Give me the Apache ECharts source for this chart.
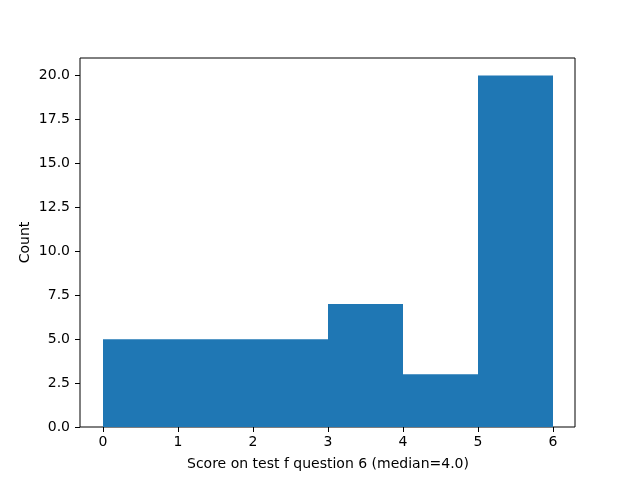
<!DOCTYPE html>
<html>
<head>
<meta charset="utf-8">
<script src="https://cdn.jsdelivr.net/npm/echarts@6/dist/echarts.min.js"></script>
<style>
  html, body { margin: 0; padding: 0; background: #fff; }
  #chart { width: 640px; height: 480px; }
</style>
</head>
<body>
<div id="chart"></div>
<script>
// Histogram data: bin edges and counts per bin
const binEdges = [0, 1, 2, 3, 4, 5, 6];
const counts = [5, 5, 5, 7, 3, 20];
const xTicks = [0, 1, 2, 3, 4, 5, 6];
const yTicks = [0, 2.5, 5, 7.5, 10, 12.5, 15, 17.5, 20];

const xLabel = 'Score on test f question 6 (median=4.0)';
const yLabel = 'Count';

const bins = counts.map((c, i) => [binEdges[i], binEdges[i + 1], c]);

const chart = echarts.init(document.getElementById('chart'));
const font = 'DejaVu Sans';

const option = {
    animation: false,
    textStyle: { fontFamily: font },
    grid: [
        // outer frame (axes box)
        { left: 80, right: 65, top: 58, bottom: 53, show: true, borderColor: '#000', borderWidth: 1 },
        // data area, inset by the 5% margins
        { left: 103, right: 87, top: 58, bottom: 53 }
    ],
    xAxis: [
        { gridIndex: 0, type: 'value', min: -0.3, max: 6.3, show: false },
        {
            gridIndex: 1, type: 'value', min: 0, max: 6, interval: 1,
            axisLine: { show: false, onZero: false },
            axisTick: { show: true, length: 5, lineStyle: { color: '#000' } },
            axisLabel: { color: '#000', fontSize: 14, margin: 8, fontFamily: font },
            splitLine: { show: false },
            name: xLabel, nameLocation: 'middle', nameGap: 30,
            nameTextStyle: { color: '#000', fontSize: 14, fontFamily: font }
        }
    ],
    yAxis: [
        {
            gridIndex: 0, type: 'value', min: 0, max: 21, interval: 2.5,
            axisLine: { show: false, onZero: false },
            axisTick: { show: true, length: 5, lineStyle: { color: '#000' } },
            axisLabel: {
                color: '#000', fontSize: 14, margin: 10, fontFamily: font,
                showMaxLabel: false,
                formatter: v => yTicks.includes(v) ? v.toFixed(1) : ''
            },
            splitLine: { show: false },
            name: yLabel, nameLocation: 'middle', nameGap: 48,
            nameMoveOverlap: false,
            nameTextStyle: { color: '#000', fontSize: 14, fontFamily: font }
        },
        { gridIndex: 1, type: 'value', min: 0, max: 21, show: false }
    ],
    series: [{
        type: 'custom',
        xAxisIndex: 1,
        yAxisIndex: 1,
        data: bins,
        renderItem: function (params, api) {
            const p0 = api.coord([api.value(0), api.value(2)]);
            const p1 = api.coord([api.value(1), 0]);
            return {
                type: 'rect',
                shape: { x: p0[0], y: p0[1], width: p1[0] - p0[0], height: p1[1] - p0[1] },
                style: { fill: '#1f77b4' }
            };
        }
    }]
};

chart.setOption(option);
</script>
</body>
</html>
